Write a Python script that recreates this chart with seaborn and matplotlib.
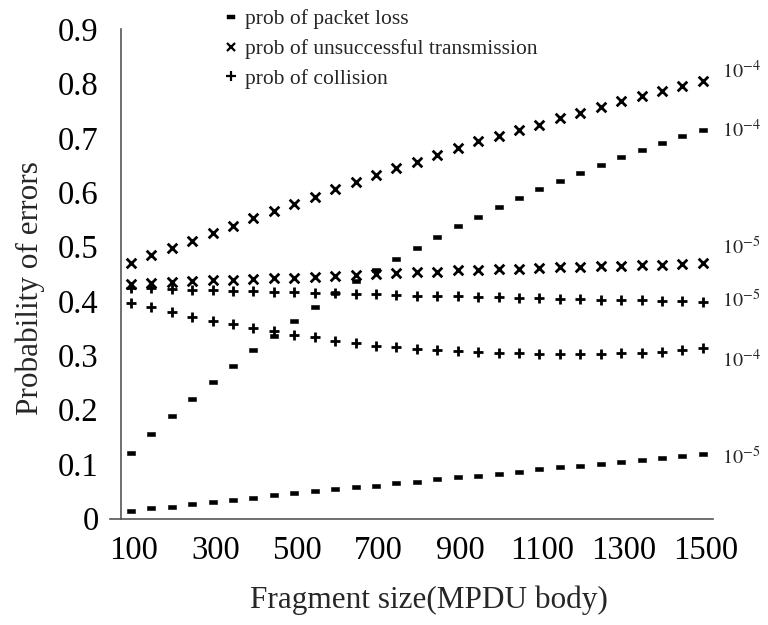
import numpy as np
import pandas as pd
import matplotlib
matplotlib.use("Agg")
import matplotlib.pyplot as plt
import matplotlib.transforms as mtransforms
from matplotlib.lines import Line2D
import seaborn as sns

# Fragment sizes (MPDU body, bytes)
sizes = [125, 175, 225, 275, 325, 375, 425, 475, 525, 575,
         625, 675, 725, 775, 825, 875, 925, 975, 1025, 1075,
         1125, 1175, 1225, 1275, 1325, 1375, 1425, 1475, 1525]

# Probability of packet loss
loss_1e4 = [0.121, 0.155, 0.189, 0.220, 0.251, 0.281, 0.309, 0.336, 0.363, 0.388,
            0.414, 0.436, 0.457, 0.478, 0.498, 0.518, 0.537, 0.555, 0.572, 0.589,
            0.605, 0.621, 0.636, 0.650, 0.664, 0.678, 0.690, 0.703, 0.715]
loss_1e5 = [0.014, 0.019, 0.022, 0.026, 0.030, 0.034, 0.038, 0.043, 0.046, 0.050,
            0.054, 0.057, 0.060, 0.065, 0.068, 0.073, 0.076, 0.079, 0.082, 0.086,
            0.091, 0.094, 0.097, 0.101, 0.104, 0.107, 0.112, 0.115, 0.119]

# Probability of unsuccessful transmission
unsucc_1e4 = [0.470, 0.484, 0.497, 0.511, 0.525, 0.538, 0.552, 0.566, 0.579, 0.591,
              0.605, 0.618, 0.631, 0.644, 0.656, 0.669, 0.681, 0.694, 0.704, 0.715,
              0.724, 0.736, 0.746, 0.757, 0.767, 0.777, 0.786, 0.796, 0.804]
unsucc_1e5 = [0.432, 0.433, 0.435, 0.437, 0.438, 0.439, 0.440, 0.442, 0.443, 0.444,
              0.446, 0.448, 0.450, 0.451, 0.453, 0.454, 0.456, 0.457, 0.458, 0.459,
              0.461, 0.462, 0.463, 0.464, 0.465, 0.466, 0.467, 0.468, 0.470]

# Probability of collision
coll_1e5 = [0.424, 0.423, 0.422, 0.421, 0.420, 0.419, 0.418, 0.417, 0.416, 0.415,
            0.414, 0.413, 0.412, 0.411, 0.410, 0.409, 0.409, 0.408, 0.407, 0.406,
            0.405, 0.404, 0.403, 0.402, 0.401, 0.401, 0.400, 0.399, 0.398]
coll_1e4 = [0.397, 0.389, 0.379, 0.371, 0.364, 0.357, 0.350, 0.345, 0.338, 0.333,
            0.327, 0.322, 0.318, 0.315, 0.312, 0.310, 0.308, 0.306, 0.305, 0.304,
            0.303, 0.302, 0.302, 0.303, 0.304, 0.305, 0.307, 0.309, 0.314]

metric_names = ["prob of packet loss",
                "prob of unsuccessful transmission",
                "prob of collision"]
ber_labels = ["$10^{-4}$", "$10^{-5}$"]

x_ticks = [100, 300, 500, 700, 900, 1100, 1300, 1500]
y_ticks = [0, 0.1, 0.2, 0.3, 0.4, 0.5, 0.6, 0.7, 0.8, 0.9]
y_tick_labels = ["0", "0.1", "0.2", "0.3", "0.4", "0.5", "0.6", "0.7", "0.8", "0.9"]

series = {
    (metric_names[0], ber_labels[0]): loss_1e4,
    (metric_names[0], ber_labels[1]): loss_1e5,
    (metric_names[1], ber_labels[0]): unsucc_1e4,
    (metric_names[1], ber_labels[1]): unsucc_1e5,
    (metric_names[2], ber_labels[0]): coll_1e4,
    (metric_names[2], ber_labels[1]): coll_1e5,
}
df = pd.concat(
    [pd.DataFrame({"size": sizes, "prob": vals, "metric": m, "ber": b})
     for (m, b), vals in series.items()],
    ignore_index=True,
)

sns.set_theme(style="white")
plt.rcParams["font.family"] = ["Liberation Serif", "DejaVu Serif"]
plt.rcParams["mathtext.fontset"] = "stix"

fig = plt.figure(figsize=(7.68, 6.25), dpi=100)
ax = fig.add_axes([0.1432, 0.1704, 0.7848, 0.7832])

# short thick bar used for the packet-loss points
dash = [(-1.0, -0.45), (1.0, -0.45), (1.0, 0.45), (-1.0, 0.45), (-1.0, -0.45)]
marker_styles = {
    metric_names[0]: dict(marker=dash, s=30, linewidth=0.4),
    metric_names[1]: dict(marker="x", s=48, linewidth=2.0),
    metric_names[2]: dict(marker="+", s=60, linewidth=2.0),
}

for m in metric_names:
    sub = df[df["metric"] == m]
    sns.scatterplot(data=sub, x="size", y="prob", color="black",
                    edgecolor="black", legend=False, ax=ax, zorder=3,
                    clip_on=False, **marker_styles[m])

# BER annotation at the end of each curve: (dx, dy) in points
end_offsets = {
    (metric_names[1], ber_labels[0]): (14, 2),
    (metric_names[0], ber_labels[0]): (14, -5.5),
    (metric_names[1], ber_labels[1]): (14, 6),
    (metric_names[2], ber_labels[1]): (14, -4),
    (metric_names[2], ber_labels[0]): (14, -14),
    (metric_names[0], ber_labels[1]): (14, -7.5),
}
for (m, b), (dx, dy) in end_offsets.items():
    vals = series[(m, b)]
    ax.annotate(b, xy=(sizes[-1], vals[-1]), xytext=(dx, dy),
                textcoords="offset points", ha="left", va="baseline",
                fontsize=14.5, annotation_clip=False)

ax.set_xlim(74, 1549)
ax.set_ylim(0, 0.9)
ax.set_xticks(x_ticks)
ax.set_xticklabels([str(v) for v in x_ticks])
ax.set_yticks(y_ticks)
ax.set_yticklabels(y_tick_labels)

for side in ["top", "right"]:
    ax.spines[side].set_visible(False)
ax.spines["left"].set_position(("data", 100))
ax.spines["left"].set_bounds(0, 0.9)
for side in ["left", "bottom"]:
    ax.spines[side].set_color("#555555")
    ax.spines[side].set_linewidth(1.2)

ax.tick_params(axis="x", direction="inout", length=12.2, width=1.1,
               color="#333333", pad=6, labelsize=23.5, labelcolor="black")
ax.tick_params(axis="y", direction="inout", length=14.4, width=1.1,
               color="#333333", pad=8.5, labelsize=23.5, labelcolor="black")
shift = mtransforms.ScaledTranslation(0.13, 0, fig.dpi_scale_trans)
for lab in ax.get_xticklabels():
    lab.set_transform(lab.get_transform() + shift)

ax.set_xlabel("Fragment size(MPDU body)", fontsize=22.5)
ax.set_ylabel("Probability of errors", fontsize=22.5)
ax.xaxis.set_label_coords(0.529, -0.1665)
ax.xaxis.label.set_verticalalignment("center")
ax.yaxis.set_label_coords(-0.133, 0.471)
ax.yaxis.label.set_verticalalignment("center")

handles = [
    Line2D([], [], linestyle="none", marker=dash, markersize=5.5,
           color="black", markeredgewidth=0.3),
    Line2D([], [], linestyle="none", marker="x", markersize=6,
           color="black", markeredgewidth=1.6),
    Line2D([], [], linestyle="none", marker="+", markersize=7,
           color="black", markeredgewidth=1.6),
]
fig.legend(handles, metric_names, loc="upper left",
           bbox_to_anchor=(0.281, 0.999), frameon=False, fontsize=15.5,
           handlelength=0.6, handletextpad=0.35, labelspacing=0.45,
           borderaxespad=0)

fig.savefig("out.png", dpi=100)
